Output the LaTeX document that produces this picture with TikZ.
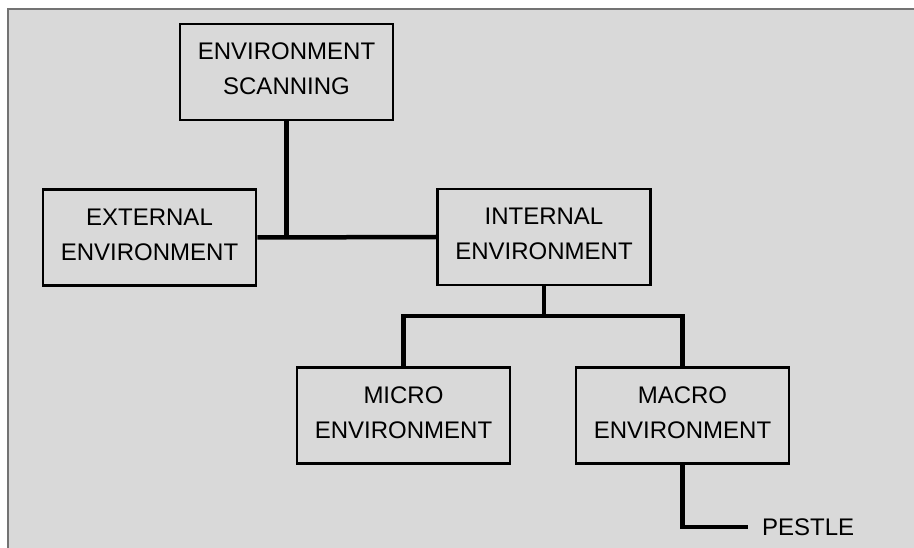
\documentclass[tikz,border=0pt]{standalone}
\usepackage{fontspec}
\setmainfont{Liberation Sans}
% invisible depth below the last line, lifting the text block slightly
\newcommand{\lowpad}{\rule[-6pt]{0pt}{6pt}}
\begin{document}
\begin{tikzpicture}[x=1pt,y=-1pt,
  panel/.style={fill=black!15},
  frameline/.style={draw=black!55,line width=1.5pt},
  box/.style={draw=black,line width=2.9pt,fill=black!15,minimum width=213pt,minimum height=96pt,
    inner sep=0pt,align=center,font=\fontsize{24}{35}\selectfont},
  link/.style={draw=black,line width=4.5pt},
  label/.style={inner sep=0pt,font=\fontsize{24}{35}\selectfont}]
\useasboundingbox (0,0) rectangle (914,548);
% grey panel with its top and left edge
\fill[panel] (8,9) rectangle (914,548);
\draw[frameline] (8,548) -- (8,9) -- (914,9);

% boxes
\node[box] (scan)  at (286.5,72)  {ENVIRONMENT\\SCANNING\lowpad};
\node[box] (ext)   at (149.5,237.5) {EXTERNAL\\ENVIRONMENT\lowpad};
\node[box] (int)   at (544,237)   {INTERNAL\\ENVIRONMENT\lowpad};
\node[box] (micro) at (403.5,415.5) {MICRO\\ENVIRONMENT\lowpad};
\node[box] (macro) at (682.5,415.5) {MACRO\\ENVIRONMENT\lowpad};
\node[label,anchor=west] (pestle) at (762,527) {PESTLE};

% junction points
\coordinate (split) at (544,316);

% connectors
\draw[link] (ext.east) -- (int.west);
\draw[link] (scan.south) -- (scan.south |- ext.east);
\draw[link] (int.south) -- (split);
\draw[link] (micro.north) -- (micro.north |- split) -- (macro.north |- split) -- (macro.north);
\draw[link,shorten >=14pt] (macro.south) |- (pestle.west);
\end{tikzpicture}
\end{document}
